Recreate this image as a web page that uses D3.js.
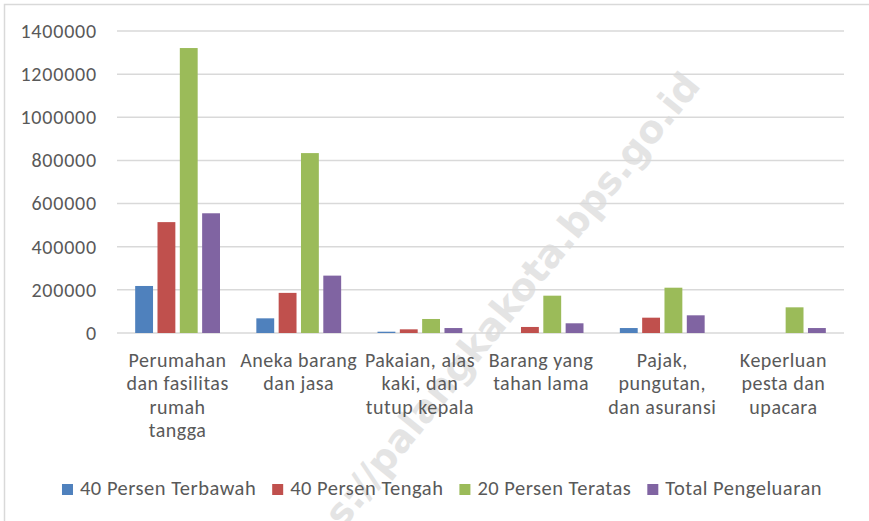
<!DOCTYPE html>
<html>
<head>
<meta charset="utf-8"/>
<script src="https://d3js.org/d3.v7.min.js"></script>
<title>Pengeluaran per kelompok</title>
<style type="text/css">
  body { margin: 0; background-color: white; }
  text { font-family: Carlito, Calibri, "Open Sans", sans-serif; fill: #595959; }
</style>
</head>
<body>
<div id="chart"></div>
<script type="text/javascript">

// data
var categories = ["Perumahan dan fasilitas rumah tangga", "Aneka barang dan jasa", "Pakaian, alas kaki, dan tutup kepala",
                  "Barang yang tahan lama", "Pajak, pungutan, dan asuransi", "Keperluan pesta dan upacara"];
var categoryLines = [
  ["Perumahan", "dan fasilitas", "rumah", "tangga"],
  ["Aneka barang", "dan jasa"],
  ["Pakaian, alas", "kaki, dan", "tutup kepala"],
  ["Barang yang", "tahan lama"],
  ["Pajak,", "pungutan,", "dan asuransi"],
  ["Keperluan", "pesta dan", "upacara"]
];
var seriesNames = ["40 Persen Terbawah", "40 Persen Tengah", "20 Persen Teratas", "Total Pengeluaran"];
var terbawah = [218000, 68000, 6000, 0, 23000, 0];
var tengah   = [514000, 186000, 17000, 28000, 71000, 0];
var teratas  = [1321000, 834000, 65000, 173000, 210000, 119000];
var total    = [555000, 266000, 23000, 45000, 82000, 23000];
var yTicks = [0, 200000, 400000, 600000, 800000, 1000000, 1200000, 1400000];
var colors = ["#4f81bd", "#c0504d", "#9bbb59", "#8064a2"];

var W = 869, H = 521;
var plot = {left: 117, right: 844, top: 31, bottom: 333};

var svg = d3.select("#chart").append("svg")
    .attr("width", W)
    .attr("height", H);

// chart area border
svg.append("rect")
    .attr("x", 4.5).attr("y", 4.5)
    .attr("width", W + 10).attr("height", H + 10)
    .attr("fill", "white")
    .attr("stroke", "#d9d9d9")
    .attr("stroke-width", 1.5);

// watermark
svg.append("text")
    .attr("transform", "translate(702,86) rotate(-51)")
    .attr("text-anchor", "end")
    .style("font-family", "'DejaVu Sans', sans-serif")
    .style("font-weight", "bold")
    .style("font-size", "38px")
    .style("fill", "#e4e4e4")
    .text("https://palangkakota.bps.go.id");

var values = [terbawah, tengah, teratas, total];
var rows = categories.map(function(c, i) {
  return {cat: c, vals: seriesNames.map(function(s, j) { return {series: s, value: values[j][i]}; })};
});

var x0 = d3.scaleBand().domain(categories).range([plot.left, plot.right])
    .paddingInner(0.3).paddingOuter(0.15);
var x1 = d3.scaleBand().domain(seriesNames).range([0, x0.bandwidth()])
    .paddingInner(0.2).paddingOuter(0);
var y = d3.scaleLinear().domain([0, 1400000]).range([plot.bottom, plot.top]);
var z = d3.scaleOrdinal().domain(seriesNames).range(colors);

// gridlines
svg.append("g")
  .selectAll("line")
  .data(yTicks)
  .enter().append("line")
    .attr("x1", plot.left).attr("x2", plot.right)
    .attr("y1", function(d) { return y(d); })
    .attr("y2", function(d) { return y(d); })
    .attr("stroke", "#d9d9d9")
    .attr("stroke-width", 1.5);

// y axis labels
var yAxis = svg.append("g")
    .attr("transform", "translate(" + (plot.left - 20) + ",0)")
    .call(d3.axisLeft(y).tickValues(yTicks).tickSize(0).tickPadding(0).tickFormat(d3.format("d")));
yAxis.select(".domain").remove();
yAxis.selectAll("text")
    .style("font-size", "20px")
    .style("letter-spacing", "0.8px")
    .style("fill", "#595959")
    .style("font-family", "Carlito, Calibri, 'Open Sans', sans-serif");

// bars
var group = svg.append("g").selectAll("g")
  .data(rows)
  .enter().append("g")
    .attr("transform", function(d) { return "translate(" + x0(d.cat) + ",0)"; });
group.selectAll("rect")
  .data(function(d) { return d.vals.filter(function(v) { return v.value > 0; }); })
  .enter().append("rect")
    .attr("x", function(d) { return x1(d.series); })
    .attr("y", function(d) { return y(d.value); })
    .attr("width", x1.bandwidth())
    .attr("height", function(d) { return y(0) - y(d.value); })
    .attr("fill", function(d) { return z(d.series); });

// category labels
var catLabel = svg.append("g").selectAll("text")
  .data(categories)
  .enter().append("text")
    .attr("text-anchor", "middle")
    .attr("x", function(d) { return x0(d) + x0.bandwidth() / 2; })
    .attr("y", 367)
    .style("font-size", "20px")
    .style("letter-spacing", "0.5px");
catLabel.selectAll("tspan")
  .data(function(d, i) { return categoryLines[i]; })
  .enter().append("tspan")
    .attr("x", function() { var p = this.parentNode; return p.getAttribute("x"); })
    .attr("dy", function(d, i) { return i === 0 ? 0 : 23.3; })
    .text(function(d) { return d; });

// legend
var legend = svg.append("g");
var items = legend.selectAll("g")
  .data(seriesNames)
  .enter().append("g");
items.append("rect")
    .attr("width", 11).attr("height", 11)
    .attr("y", -11)
    .attr("fill", function(d) { return z(d); });
items.append("text")
    .attr("x", 18)
    .style("font-size", "20.5px")
    .style("letter-spacing", "0.5px")
    .text(function(d) { return d; });
var pos = 0, widths = [];
items.each(function() { widths.push(this.getBBox().width); });
var gap = 16;
var totalW = d3.sum(widths) + gap * (widths.length - 1);
pos = 442 - totalW / 2;
items.attr("transform", function(d, i) {
  var t = "translate(" + pos + ",495)";
  pos += widths[i] + gap;
  return t;
});

</script>
</body>
</html>
